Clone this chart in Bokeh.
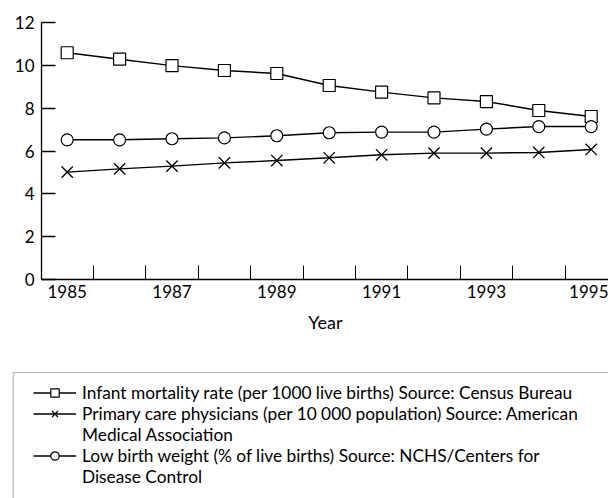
from bokeh.plotting import figure
from bokeh.models import (LinearAxis, FixedTicker, Range1d, Legend, LegendItem,
                          BoxAnnotation)
from bokeh.embed import file_html
from bokeh.resources import INLINE

# ---- data ----
years = [1985, 1986, 1987, 1988, 1989, 1990, 1991, 1992, 1993, 1994, 1995]
infant_mortality = [10.6, 10.3, 10.0, 9.77, 9.63, 9.07, 8.76, 8.49, 8.32, 7.9, 7.62]
physicians = [5.02, 5.17, 5.3, 5.45, 5.56, 5.69, 5.83, 5.91, 5.91, 5.94, 6.08]
low_birth_weight = [6.53, 6.53, 6.58, 6.62, 6.72, 6.86, 6.89, 6.89, 7.03, 7.15, 7.15]
y_ticks = [0, 2, 4, 6, 8, 10, 12]
x_label_ticks = [1985, 1987, 1989, 1991, 1993, 1995]
x_mark_ticks = [1985.5, 1986.5, 1987.5, 1988.5, 1989.5, 1990.5, 1991.5, 1992.5, 1993.5, 1994.5]
legend_lines = [
    "Infant mortality rate (per 1000 live births) Source: Census Bureau",
    "Primary care physicians (per 10 000 population) Source: American",
    "Medical Association",
    "Low birth weight (% of live births) Source: NCHS/Centers for",
    "Disease Control",
]

FONT = "Lato"
W, H = 608, 498

# pixel -> data helpers for layout (window px)
PX_X0, PX_PER_YEAR = 66.7, 52.4
PX_Y0, PX_PER_UNIT = 279.0, 21.39
def dx(px):
    return 1985 + (px - PX_X0) / PX_PER_YEAR
def dy(py):
    return (PX_Y0 - py) / PX_PER_UNIT

p = figure(width=W, height=H, output_backend="svg", toolbar_location=None,
           x_axis_location=None, y_axis_location=None,
           x_range=Range1d(dx(0), dx(W)), y_range=Range1d(dy(H), dy(0)),
           min_border=0, min_border_left=0, min_border_right=0,
           min_border_top=0, min_border_bottom=0)
p.outline_line_color = None
p.grid.grid_line_color = None
p.background_fill_color = "white"

yaxis_x = dx(41)

# legend box
box = BoxAnnotation(left=dx(12.7), right=dx(800), top=dy(372), bottom=dy(800),
                    fill_color="white", fill_alpha=1, line_color="black",
                    line_width=1.2, level="underlay")
p.add_layout(box)

# y axis
yaxis = LinearAxis(fixed_location=yaxis_x, bounds=(0, 12),
                   ticker=FixedTicker(ticks=y_ticks))
yaxis.major_tick_in = 14
yaxis.major_tick_out = 0
yaxis.minor_tick_line_color = None
yaxis.axis_line_width = 1.3
yaxis.major_tick_line_width = 1.3
yaxis.major_label_standoff = 7
yaxis.major_label_text_font = FONT
yaxis.major_label_text_font_size = "17px"
yaxis.major_label_text_color = "black"
yaxis.axis_line_color = "black"
yaxis.major_tick_line_color = "black"
p.add_layout(yaxis, "left")

# x axis: line + ticks between years
xaxis = LinearAxis(fixed_location=0, bounds=(yaxis_x, dx(800)),
                   ticker=FixedTicker(ticks=x_mark_ticks))
xaxis.major_tick_in = 14
xaxis.major_tick_out = 0
xaxis.minor_tick_line_color = None
xaxis.axis_line_width = 1.3
xaxis.major_tick_line_width = 1.0
xaxis.major_label_text_color = None
xaxis.axis_line_color = "black"
xaxis.major_tick_line_color = "black"
p.add_layout(xaxis, "below")

# x axis: year labels
xlab = LinearAxis(fixed_location=0, bounds=(dx(45), dx(605)),
                  ticker=FixedTicker(ticks=x_label_ticks))
xlab.axis_line_color = None
xlab.major_tick_line_color = None
xlab.minor_tick_line_color = None
xlab.major_tick_in = 0
xlab.major_tick_out = 0
xlab.major_label_standoff = 5
xlab.major_label_text_font = FONT
xlab.major_label_text_font_size = "17px"
xlab.major_label_text_color = "black"
xlab.axis_label = "Year"
xlab.axis_label_text_font = FONT
xlab.axis_label_text_font_size = "18px"
xlab.axis_label_text_font_style = "normal"
xlab.axis_label_text_color = "black"
xlab.axis_label_standoff = 10
p.add_layout(xlab, "below")

# series
l1 = p.line(years, infant_mortality, line_color="black", line_width=1.4)
m1 = p.scatter(years, infant_mortality, marker="square", size=12,
               fill_color="white", line_color="black", line_width=1.2)
l2 = p.line(years, physicians, line_color="black", line_width=1.4)
m2 = p.scatter(years, physicians, marker="x", size=16,
               line_color="black", line_width=1.3)
l3 = p.line(years, low_birth_weight, line_color="black", line_width=1.4)
m3 = p.scatter(years, low_birth_weight, marker="circle", size=12,
               fill_color="white", line_color="black", line_width=1.2)

# invisible renderer used for the continuation lines of the legend
blank = p.line([], [], line_alpha=0)

legend = Legend(items=[
    LegendItem(label=legend_lines[0], renderers=[l1, m1]),
    LegendItem(label=legend_lines[1], renderers=[l2, m2]),
    LegendItem(label=legend_lines[2], renderers=[blank]),
    LegendItem(label=legend_lines[3], renderers=[l3, m3]),
    LegendItem(label=legend_lines[4], renderers=[blank]),
], location=(33, 11))
legend.border_line_color = None
legend.background_fill_alpha = 0
legend.padding = 0
legend.margin = 0
legend.spacing = 0
legend.glyph_width = 43
legend.glyph_height = 21
legend.label_height = 21
legend.label_standoff = 6
legend.label_text_font = FONT
legend.label_text_font_size = "17.3px"
legend.label_text_color = "black"
p.add_layout(legend)

open("out.html", "w").write(file_html(p, INLINE))
